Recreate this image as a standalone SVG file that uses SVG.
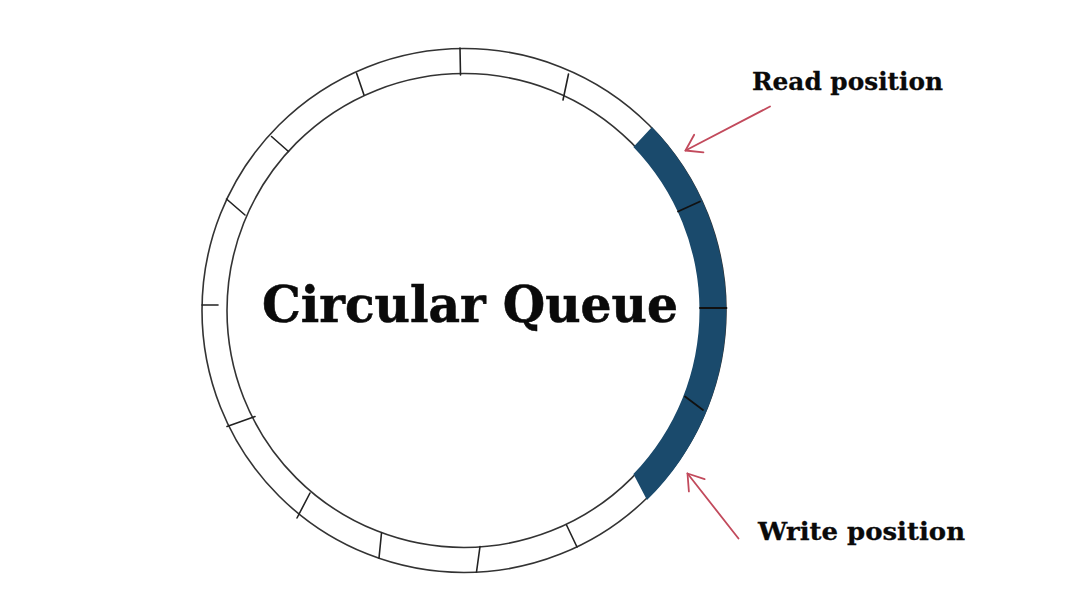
<svg xmlns="http://www.w3.org/2000/svg" width="1080" height="609" viewBox="0 0 1080 609">
  <defs>
    <style>
      .ring { fill: none; stroke: #333333; stroke-width: 1.6; }
      .tick { stroke: #222222; stroke-width: 1.6; stroke-linecap: round; }
      .btick { stroke: #111; stroke-width: 1.8; stroke-linecap: round; }
      .slot { fill: #1a4a6c; }
      .arrow { fill: none; stroke: #c24a5c; stroke-width: 1.8; stroke-linecap: round; marker-end: url(#head); }
      .label { font-family: "DejaVu Serif", "Liberation Serif", serif; font-weight: bold; fill: #0a0a0a; }
    </style>
    <marker id="head" markerUnits="userSpaceOnUse" markerWidth="24" markerHeight="24" viewBox="-20 -12 24 24" refX="0" refY="0" orient="auto">
      <path d="M-15,-10 L0,0 L-15,10" fill="none" stroke="#c24a5c" stroke-width="1.8" stroke-linecap="round" stroke-linejoin="round"/>
    </marker>
  </defs>
  <rect width="1080" height="609" fill="#ffffff"/>

  <g id="queue-ring">
    <circle class="ring" cx="464" cy="310.5" r="262"/>
    <circle class="ring" cx="464" cy="310.5" r="237"/>
    <line class="tick" x1="460" y1="48" x2="460.5" y2="75"/>
    <line class="tick" x1="568.5" y1="74" x2="563" y2="100"/>
    <line class="tick" x1="356.5" y1="73" x2="364" y2="95"/>
    <line class="tick" x1="271.5" y1="136.5" x2="288.5" y2="151.5"/>
    <line class="tick" x1="226.5" y1="199" x2="245" y2="215"/>
    <line class="tick" x1="202" y1="305" x2="218" y2="305"/>
    <line class="tick" x1="227" y1="426.5" x2="255" y2="416.5"/>
    <line class="tick" x1="297" y1="518" x2="310" y2="493"/>
    <line class="tick" x1="379" y1="558" x2="381.5" y2="533"/>
    <line class="tick" x1="476.5" y1="572" x2="480" y2="546.5"/>
    <line class="tick" x1="577" y1="547" x2="566.5" y2="525"/>
  </g>

  <g id="filled-slots">
    <path class="slot" d="M652,127 A265,265 0 0 1 647,500 L633.4,474.1 A235.5,235.5 0 0 0 633.4,146.9 Z"/>
    <line class="btick" x1="678" y1="211.5" x2="700" y2="201.5"/>
    <line class="btick" x1="700" y1="308" x2="726.5" y2="308"/>
    <line class="btick" x1="685" y1="396.5" x2="703" y2="410"/>
  </g>

  <g id="title">
    <text class="label" x="262" y="321.5" font-size="51" textLength="416" lengthAdjust="spacingAndGlyphs" stroke="#0a0a0a" stroke-width="0.6">Circular Queue</text>
  </g>

  <g id="read-label">
    <text class="label" x="752" y="90" font-size="25" textLength="191" lengthAdjust="spacingAndGlyphs" stroke="#0a0a0a" stroke-width="0.3">Read position</text>
  </g>

  <g id="write-label">
    <text class="label" x="758" y="540" font-size="25" textLength="207" lengthAdjust="spacingAndGlyphs" stroke="#0a0a0a" stroke-width="0.3">Write position</text>
  </g>

  <g id="connectors">
    <path class="arrow" d="M770,106.5 L685.5,150.5"/>
    <path class="arrow" d="M738.5,538.5 L687.5,473.5"/>
  </g>
</svg>
